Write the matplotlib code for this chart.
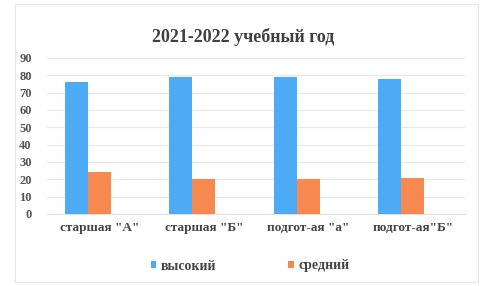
import matplotlib
matplotlib.use("Agg")
import matplotlib.pyplot as plt
import numpy as np
from matplotlib.patches import Rectangle

categories = ['старшая "А"', 'старшая "Б"', 'подгот-ая "а"', 'подгот-ая"Б"']
series_names = ['высокий', 'средний']
high = [76, 79, 79, 78]
mid = [24, 20, 20, 21]
yticks = list(range(0, 100, 10))

blue = '#4DABF5'
orange = '#F5894F'
serif = ['Liberation Serif', 'DejaVu Serif']

fig = plt.figure(figsize=(4.86, 2.86), dpi=100)
fig.patches.append(Rectangle((15/486, 4/286), 463/486, 278/286, transform=fig.transFigure,
                             fill=False, edgecolor='#e6e6e6', linewidth=0.8))
ax = fig.add_axes([47/486, 1-214/286, 418/486, 156/286])

x = np.arange(len(categories))
w = 0.22
ax.bar(x - w, high, width=w, color=blue, label=series_names[0], zorder=3)
ax.bar(x, mid, width=w, color=orange, label=series_names[1], zorder=3)

ax.set_xlim(-0.5, len(categories) - 0.5)
ax.set_ylim(0, 90)
ax.set_yticks(yticks)
ax.set_yticklabels([str(t) for t in yticks], fontfamily=serif, fontsize=9,
                   fontweight='bold', color='#555555')
ax.set_xticks(x)
ax.set_xticklabels(categories, fontfamily=serif, fontsize=9.5, fontweight='bold', color='#444444')
ax.tick_params(axis='y', length=0, pad=11)
ax.tick_params(axis='x', length=0, pad=6)
ax.grid(axis='y', color='#e8e8e8', linewidth=0.8, zorder=0)
for s in ['top', 'right', 'left']:
    ax.spines[s].set_visible(False)
ax.spines['bottom'].set_color('#e0e0e0')

fig.text(243/486, 1-37/286, '2021-2022 учебный год',
         ha='center', va='center', fontfamily=serif, fontsize=13, fontweight='bold', color='#404040')

leg = fig.legend(loc='center', bbox_to_anchor=(250/486, 1-266/286), ncol=2, frameon=False,
                 prop={'family': serif, 'size': 10, 'weight': 'bold'},
                 handlelength=0.4, handleheight=0.4, handletextpad=0.3, columnspacing=5.2)
for t in leg.get_texts():
    t.set_color('#444444')

fig.savefig('out.png', dpi=100)
